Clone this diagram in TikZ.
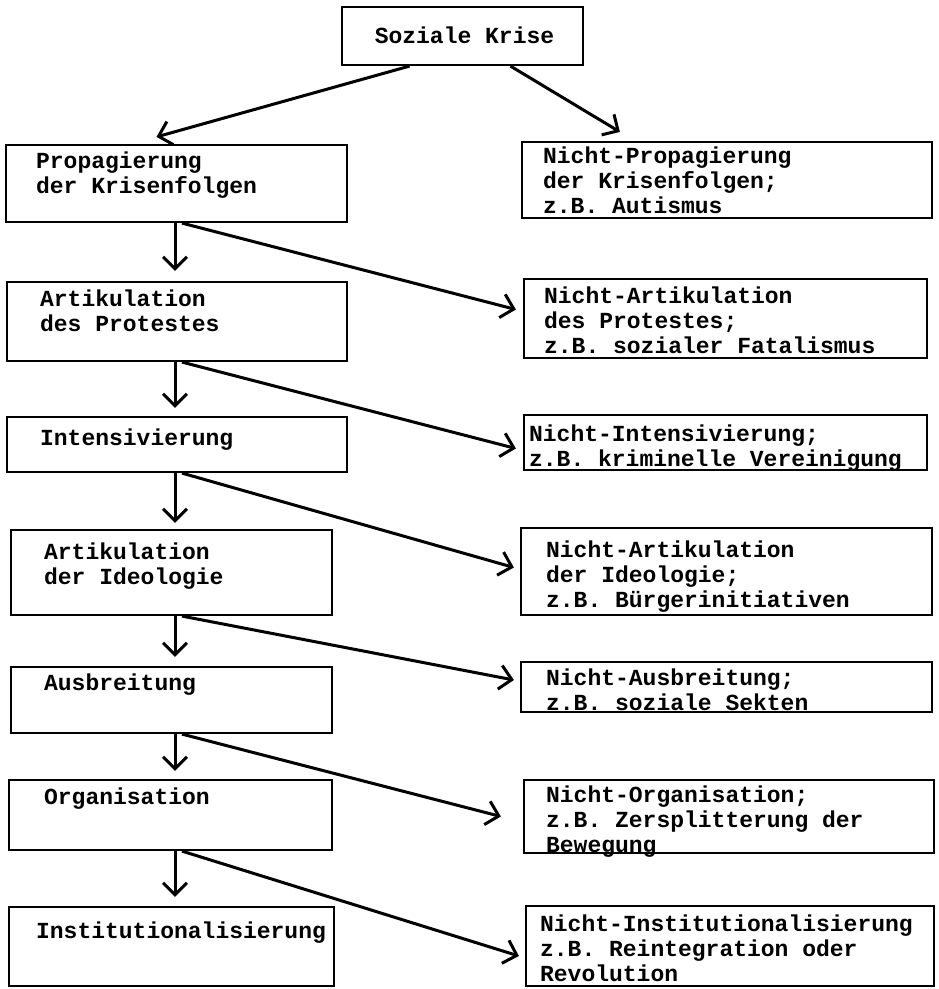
\documentclass[tikz,border=0pt]{standalone}
\usepackage{fontspec}
\setmonofont{Liberation Mono}
\usetikzlibrary{arrows.meta,calc,fit}
\begin{document}
\begin{tikzpicture}[x=1pt,y=-1pt,
  box/.style={draw,line width=2.2pt,rectangle,inner sep=0pt},
  tfont/.style={font=\ttfamily\bfseries\fontsize{23}{25}\selectfont},
  txt/.style={tfont,anchor=north west,inner sep=0pt,align=left},
  arr/.style={line width=3pt,-{Straight Barb[length=12pt,width=24pt]}}]
\useasboundingbox (0,0) rectangle (939,989);
\coordinate (vx) at (175,0);
\coordinate (dx) at (182,0);
% top box
\node[box,fit={(342,7)(583,65)}] (SK) {};
\node[tfont,inner sep=0pt] (tSK) at ($(SK.center)+(2,-1)$) {Soziale Krise};
% left column
\node[box,fit={(6,145)(347,222)}] (P) {};
\node[box,fit={(7,282)(347,361)}] (A1) {};
\node[box,fit={(7,417)(347,472)}] (I) {};
\node[box,fit={(11,530)(332,615)}] (A2) {};
\node[box,fit={(11,667)(332,733)}] (Au) {};
\node[box,fit={(9,780)(332,850)}] (O) {};
\node[box,fit={(9,907)(334,986)}] (In) {};
% right column
\node[box,fit={(522,142)(932,218)}] (NP) {};
\node[box,fit={(524,279)(927,358)}] (NA1) {};
\node[box,fit={(524,415)(927,470)}] (NI) {};
\node[box,fit={(521,528)(932,615)}] (NA2) {};
\node[box,fit={(521,662)(932,712)}] (NAu) {};
\node[box,fit={(524,780)(934,853)}] (NO) {};
\node[box,fit={(526,906)(934,986)}] (NIn) {};
% texts left
\node[txt] (tP) at ($(P.north west)+(31,8)$) {Propagierung\\der Krisenfolgen};
\node[txt] (tA1) at ($(A1.north west)+(34,9)$) {Artikulation\\des Protestes};
\node[txt] (tI) at ($(I.north west)+(34,13)$) {Intensivierung};
\node[txt] (tA2) at ($(A2.north west)+(34,14)$) {Artikulation\\der Ideologie};
\node[txt] (tAu) at ($(Au.north west)+(34,8)$) {Ausbreitung};
\node[txt] (tO) at ($(O.north west)+(36,9)$) {Organisation};
\node[txt] (tIn) at ($(In.north west)+(28,16)$) {Institutionalisierung};
% texts right
\node[txt] (tNP) at ($(NP.north west)+(22,6)$) {Nicht-Propagierung\\der Krisenfolgen;\\z.B. Autismus};
\node[txt] (tNA1) at ($(NA1.north west)+(21,9)$) {Nicht-Artikulation\\des Protestes;\\z.B. sozialer Fatalismus};
\node[txt] (tNI) at ($(NI.north west)+(6,11)$) {Nicht-Intensivierung;\\z.B. kriminelle Vereinigung};
\node[txt] (tNA2) at ($(NA2.north west)+(26,14)$) {Nicht-Artikulation\\der Ideologie;\\z.B. Bürgerinitiativen};
\node[txt] (tNAu) at ($(NAu.north west)+(26,8)$) {Nicht-Ausbreitung;\\z.B. soziale Sekten};
\node[txt] (tNO) at ($(NO.north west)+(23,7)$) {Nicht-Organisation;\\z.B. Zersplitterung der\\Bewegung};
\node[txt] (tNIn) at ($(NIn.north west)+(15,10)$) {Nicht-Institutionalisierung\\z.B. Reintegration oder\\Revolution};
% arrows from top
\draw[arr] ($(SK.south)+(-53,0)$) -- ($(P.north)+(-20,-7)$);
\draw[arr] ($(SK.south)+(48,0)$) -- ($(NP.north west)+(99,-9)$);
% vertical arrows
\draw[arr] (P.south -| vx) -- ($(A1.north -| vx)+(0,-10)$);
\draw[arr] (A1.south -| vx) -- ($(I.north -| vx)+(0,-8)$);
\draw[arr] (I.south -| vx) -- ($(A2.north -| vx)+(0,-6)$);
\draw[arr] (A2.south -| vx) -- ($(Au.north -| vx)+(0,-9)$);
\draw[arr] (Au.south -| vx) -- ($(O.north -| vx)+(0,-8)$);
\draw[arr] (O.south -| vx) -- ($(In.north -| vx)+(0,-9)$);
% diagonal arrows
\draw[arr] (P.south -| dx) -- ($(NA1.west)+(-7,-9)$);
\draw[arr] (A1.south -| dx) -- ($(NI.west)+(-7,6)$);
\draw[arr] (I.south -| dx) -- ($(NA2.west)+(-6,-4)$);
\draw[arr] (A2.south -| dx) -- ($(NAu.west)+(-6,-7)$);
\draw[arr] (Au.south -| dx) -- ($(NO.west)+(-22,0)$);
\draw[arr] (O.south -| dx) -- ($(NIn.west)+(-6,10)$);
\end{tikzpicture}
\end{document}
